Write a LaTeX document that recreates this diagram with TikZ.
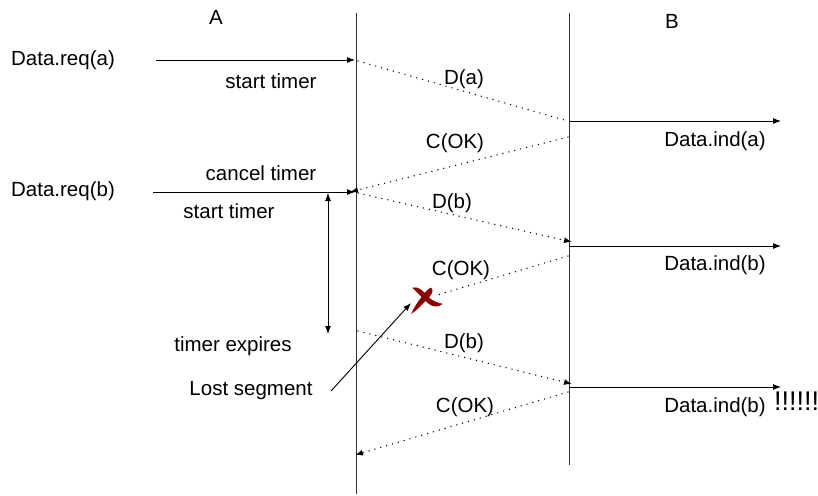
\documentclass[tikz,border=0pt]{standalone}
\usepackage{fontspec}
\setmainfont{Liberation Sans}
\usetikzlibrary{arrows.meta}
\begin{document}
\begin{tikzpicture}[x=1pt,y=-1pt,
  lbl/.style={font=\fontsize{20.5}{24}\selectfont, inner sep=0pt},
  life/.style={draw=black!80, line width=0.9pt},
  msg/.style={draw=black, line width=0.9pt, -{Latex[length=8pt,width=6pt]}},
  pdu/.style={draw=black, line width=1.4pt, dash pattern=on 0.1pt off 6pt, line cap=round, -{Latex[length=8pt,width=6pt]}},
  pdunohead/.style={draw=black, line width=1.4pt, dash pattern=on 0.1pt off 6pt, line cap=round},
  lost/.style={fill=red!55!black, draw=red!55!black, line width=0.6pt}]
\useasboundingbox (0,0) rectangle (818,495);
\begin{scope}
\clip (0,0) rectangle (818,495);
% lifelines
\coordinate (Atop) at (356,13);
\coordinate (Abot) at (356,494);
\coordinate (Btop) at (569,13);
\coordinate (Bbot) at (569,465);
\draw[life] (Atop) -- (Abot);
\draw[life] (Btop) -- (Bbot);
% labels A, B
\node[lbl] (A) at (216,17) {A};
\node[lbl] (B) at (672,21) {B};
% first request
\node[lbl] (reqa) at (63,60) {Data.req(a)};
\coordinate (reqaS) at (156,60);
\coordinate (reqaE) at (355,60);
\draw[msg] (reqaS) -- (reqaE);
\node[lbl] (st1) at (271,81) {start timer};
\coordinate (Da1) at (358,61);
\coordinate (Da2) at (568,121);
\draw[pdunohead] (Da1) -- (Da2);
\node[lbl] (Da) at (464,79) {D(a)};
\coordinate (inda1) at (569,121);
\coordinate (inda2) at (781,121);
\draw[msg] (inda1) -- (inda2);
\node[lbl] (inda) at (715,141) {Data.ind(a)};
\coordinate (C1a) at (568,137);
\coordinate (C1b) at (350,192);
\draw[pdu] (C1a) -- (C1b);
\node[lbl] (C1) at (455,143) {C(OK)};
% second request
\node[lbl] (ct) at (261,173) {cancel timer};
\node[lbl] (reqb) at (63,191) {Data.req(b)};
\coordinate (reqbS) at (153,192);
\coordinate (reqbE) at (355,192);
\draw[msg] (reqbS) -- (reqbE);
\node[lbl] (st2) at (229,211) {start timer};
\coordinate (Db1) at (358,193);
\coordinate (Db2) at (572,242);
\draw[pdu] (Db1) -- (Db2);
\node[lbl] (Db) at (452,203) {D(b)};
\coordinate (indb1) at (569,246);
\coordinate (indb2) at (781,246);
\draw[msg] (indb1) -- (indb2);
\node[lbl] (indb) at (715,265) {Data.ind(b)};
\coordinate (C2a) at (568,256);
\coordinate (C2b) at (434,296);
\draw[pdunohead] (C2a) -- (C2b);
\node[lbl] (C2) at (461,270) {C(OK)};
% lost X (brush strokes)
\draw[lost] (413,288) .. controls (418,286) and (424,292) .. (428,297)
  .. controls (432,301) and (437,303) .. (442,304)
  .. controls (437,308) and (431,306) .. (427,302)
  .. controls (422,297) and (417,292) .. (413,288) -- cycle;
\draw[lost] (431,288) .. controls (434,291) and (431,295) .. (427,299)
  .. controls (422,304) and (418,309) .. (412,313)
  .. controls (414,308) and (418,302) .. (422,297)
  .. controls (425,293) and (428,289) .. (431,288) -- cycle;
% timer
\coordinate (tm1) at (328,193);
\coordinate (tm2) at (328,334);
\draw[draw=black, line width=0.9pt, {Latex[length=8pt,width=6pt]}-{Latex[length=8pt,width=6pt]}] (tm1) -- (tm2);
\node[lbl] (te) at (233,346) {timer expires};
% retransmission
\coordinate (Dc1) at (358,331);
\coordinate (Dc2) at (572,384);
\draw[pdu] (Dc1) -- (Dc2);
\node[lbl] (Dc) at (464,343) {D(b)};
\coordinate (indc1) at (569,387);
\coordinate (indc2) at (781,387);
\draw[msg] (indc1) -- (indc2);
\node[lbl] (indc) at (715,407) {Data.ind(b)};
\node[lbl, font=\fontsize{27}{30}\selectfont, anchor=base west] (bang) at (774,410) {!!!!!!};
\coordinate (C3a) at (568,392);
\coordinate (C3b) at (355,455);
\draw[pdu] (C3a) -- (C3b);
\node[lbl] (C3) at (465,407) {C(OK)};
% lost segment
\node[lbl] (ls) at (251,391) {Lost segment};
\coordinate (lsS) at (331,391);
\coordinate (lsE) at (411,303);
\draw[msg] (lsS) -- (lsE);
\end{scope}
\end{tikzpicture}
\end{document}
